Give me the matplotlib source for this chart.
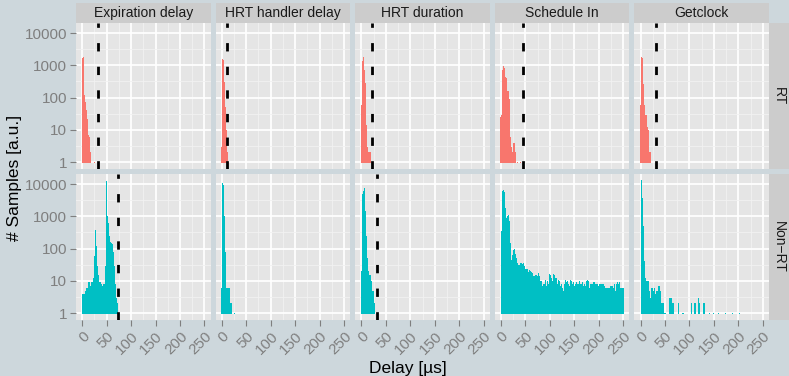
import numpy as np
import matplotlib.pyplot as plt
from matplotlib.patches import Rectangle
from matplotlib.ticker import FixedLocator

plt.rcParams['font.family'] = ['Liberation Sans', 'DejaVu Sans']
plt.rcParams['lines.scale_dashes'] = False

# facets
measures = ['Expiration delay', 'HRT handler delay', 'HRT duration', 'Schedule In', 'Getclock']
kernels = ['RT', 'Non\u2212RT']

# histogram counts, bins of 2 us centred on 0, 2, 4, ...
binwidth = 2
rt_expiration = [1700, 1800, 120, 75, 40, 22, 11, 7, 6, 2, 0, 0, 0, 1]
rt_handler = [3, 1550, 1500, 300, 50, 10, 2]
rt_duration = [60, 1400, 1850, 700, 280, 14, 3, 2, 2, 2]
rt_schedule = [25, 30, 700, 970, 800, 450, 400, 155, 155, 90, 6, 3, 2, 4, 4, 2, 0, 1, 0, 0, 1]
rt_getclock = [60, 1770, 1700, 270, 60, 30, 30, 12, 10, 2, 2]

nonrt_expiration = [4, 4, 4, 5, 6, 6, 6, 9, 9, 7, 9, 9, 12, 60, 380, 120, 30, 15, 9, 9,
                    8, 7, 8, 8, 30, 12000, 1000, 600, 250, 160, 150, 140, 80, 30, 8, 3, 2]
nonrt_handler = [6, 10500, 9000, 1000, 80, 6, 6, 6, 6, 2, 2, 0, 0, 1]
nonrt_duration = [20, 5000, 6000, 7400, 1500, 250, 50, 20, 15, 15, 10, 5, 5, 2]
nonrt_schedule = [0, 340, 6000, 6500, 5800, 1800, 870, 1000, 1100, 700,
                  145, 45, 63, 90, 95, 70, 50, 35, 31, 31,
                  35, 35, 33, 35, 28, 23, 23, 23, 19, 22,
                  20, 19, 17, 14, 14, 15, 15, 14, 18, 14,
                  10, 10, 7, 8, 6, 8, 11, 7, 10, 8,
                  16, 15, 12, 10, 16, 15, 12, 12, 8, 11,
                  10, 7, 8, 6, 5, 8, 11, 9, 10, 8,
                  7, 11, 10, 8, 9, 7, 8, 9, 8, 8,
                  10, 8, 8, 9, 7, 8, 7, 10, 11, 10,
                  6, 9, 8, 8, 8, 9, 9, 8, 8, 8,
                  7, 8, 8, 8, 8, 8, 7, 6, 6, 6,
                  6, 6, 7, 7, 7, 6, 8, 5, 8, 9,
                  8, 9, 6, 6, 6, 6]
nonrt_getclock = [0, 13000, 3600, 500, 40, 12, 10, 10, 10, 5,
                  3, 6, 6, 5, 6, 4, 5, 5, 7, 7,
                  5, 2, 2, 2, 1, 0, 1, 0, 0, 0,
                  3, 3, 3, 2, 2, 0, 0, 0, 0, 2,
                  0, 0, 0, 1, 1, 0, 0, 0, 0, 0,
                  0, 0, 2, 0, 0, 2, 2, 0, 0, 3,
                  2, 0, 0, 0, 2, 2, 0, 0, 0, 0,
                  1, 0, 0, 0, 0, 1, 0, 0, 0, 0,
                  1, 0, 0, 0, 0, 0, 0, 1, 0, 0,
                  0, 0, 0, 0, 1, 0, 0, 0, 0, 0,
                  0, 1]

# dashed limits per facet (us), None = not shown
rt_limits = [33, 11, 22, 46, 31]
nonrt_limits = [74, None, 32, None, None]

x_ticks = [0, 50, 100, 150, 200, 250]
y_ticks = [1, 10, 100, 1000, 10000]

hists = [[rt_expiration, rt_handler, rt_duration, rt_schedule, rt_getclock],
         [nonrt_expiration, nonrt_handler, nonrt_duration, nonrt_schedule, nonrt_getclock]]
limits = [rt_limits, nonrt_limits]
colors = ['#F8766D', '#00BFC4']

W, H = 789, 376
fig = plt.figure(figsize=(W / 100, H / 100), dpi=100)
fig.patch.set_facecolor('#cdd7dc')

left, top = 76, 23
pw, ph, gap = 134.6, 146, 5
strip = 20
base = 0.93


def px_rect(x0, y0, w, h):
    return [x0 / W, 1 - (y0 + h) / H, w / W, h / H]


for r, kernel in enumerate(kernels):
    y0 = top + r * (ph + gap)
    for c, name in enumerate(measures):
        x0 = left + c * (pw + gap)
        ax = fig.add_axes(px_rect(x0, y0, pw, ph))
        ax.set_facecolor('#e5e5e5')
        for s in ax.spines.values():
            s.set_visible(False)

        vals = np.array(hists[r][c], float)
        edges = np.arange(len(vals) + 1) * binwidth - binwidth / 2
        ax.stairs(np.where(vals > 0, vals, base), edges, baseline=base,
                  fill=True, color=colors[r], lw=0)

        lim = limits[r][c]
        if lim is not None:
            ax.axvline(lim, color='black', lw=2, dashes=(6, 11))

        ax.set_yscale('log')
        ax.set_xlim(-12.5, 262.5)
        ax.set_ylim(10 ** -0.21, 10 ** 4.31)
        ax.set_xticks(x_ticks)
        ax.set_yticks(y_ticks)
        ax.xaxis.set_minor_locator(FixedLocator([25, 75, 125, 175, 225]))
        ax.yaxis.set_minor_locator(FixedLocator(10 ** (np.arange(4) + 0.5)))
        ax.grid(which='major', color='white', lw=1.25)
        ax.grid(which='minor', color='#f2f2f2', lw=0.6)
        ax.set_axisbelow(True)
        ax.tick_params(which='minor', length=0)
        ax.tick_params(which='major', length=4.3, width=0.8, color='#7f7f7f',
                       labelcolor='#7f7f7f', labelsize=11, pad=2)

        if c == 0:
            ax.set_yticklabels([str(v) for v in y_ticks])
        else:
            ax.tick_params(axis='y', length=0, labelleft=False)
        if r == 1:
            ax.set_xticklabels([str(v) for v in x_ticks], rotation=45,
                               ha='right', va='top', rotation_mode='anchor')
        else:
            ax.tick_params(axis='x', length=0, labelbottom=False)

        if r == 0:
            fig.add_artist(Rectangle((x0 / W, 1 - top / H), pw / W, strip / H,
                                     transform=fig.transFigure, color='#cccccc', lw=0))
            fig.text((x0 + pw / 2) / W, 1 - (top - strip / 2) / H, name,
                     ha='center', va='center', fontsize=10, color='#1a1a1a')

    sx = left + 5 * pw + 4 * gap
    fig.add_artist(Rectangle((sx / W, 1 - (y0 + ph) / H), strip / W, ph / H,
                             transform=fig.transFigure, color='#cccccc', lw=0))
    fig.text((sx + strip / 2) / W, 1 - (y0 + ph / 2) / H, kernel, rotation=270,
             ha='center', va='center', fontsize=10, color='#1a1a1a')

fig.text(408 / W, 1 - 373 / H, 'Delay [\u00b5s]', ha='center', va='baseline', fontsize=12.5)
fig.text(15 / W, 1 - 178 / H, '# Samples [a.u.]', rotation=90, ha='center', va='center',
         fontsize=12.5)

fig.savefig('out.png', dpi=100, facecolor=fig.get_facecolor())
